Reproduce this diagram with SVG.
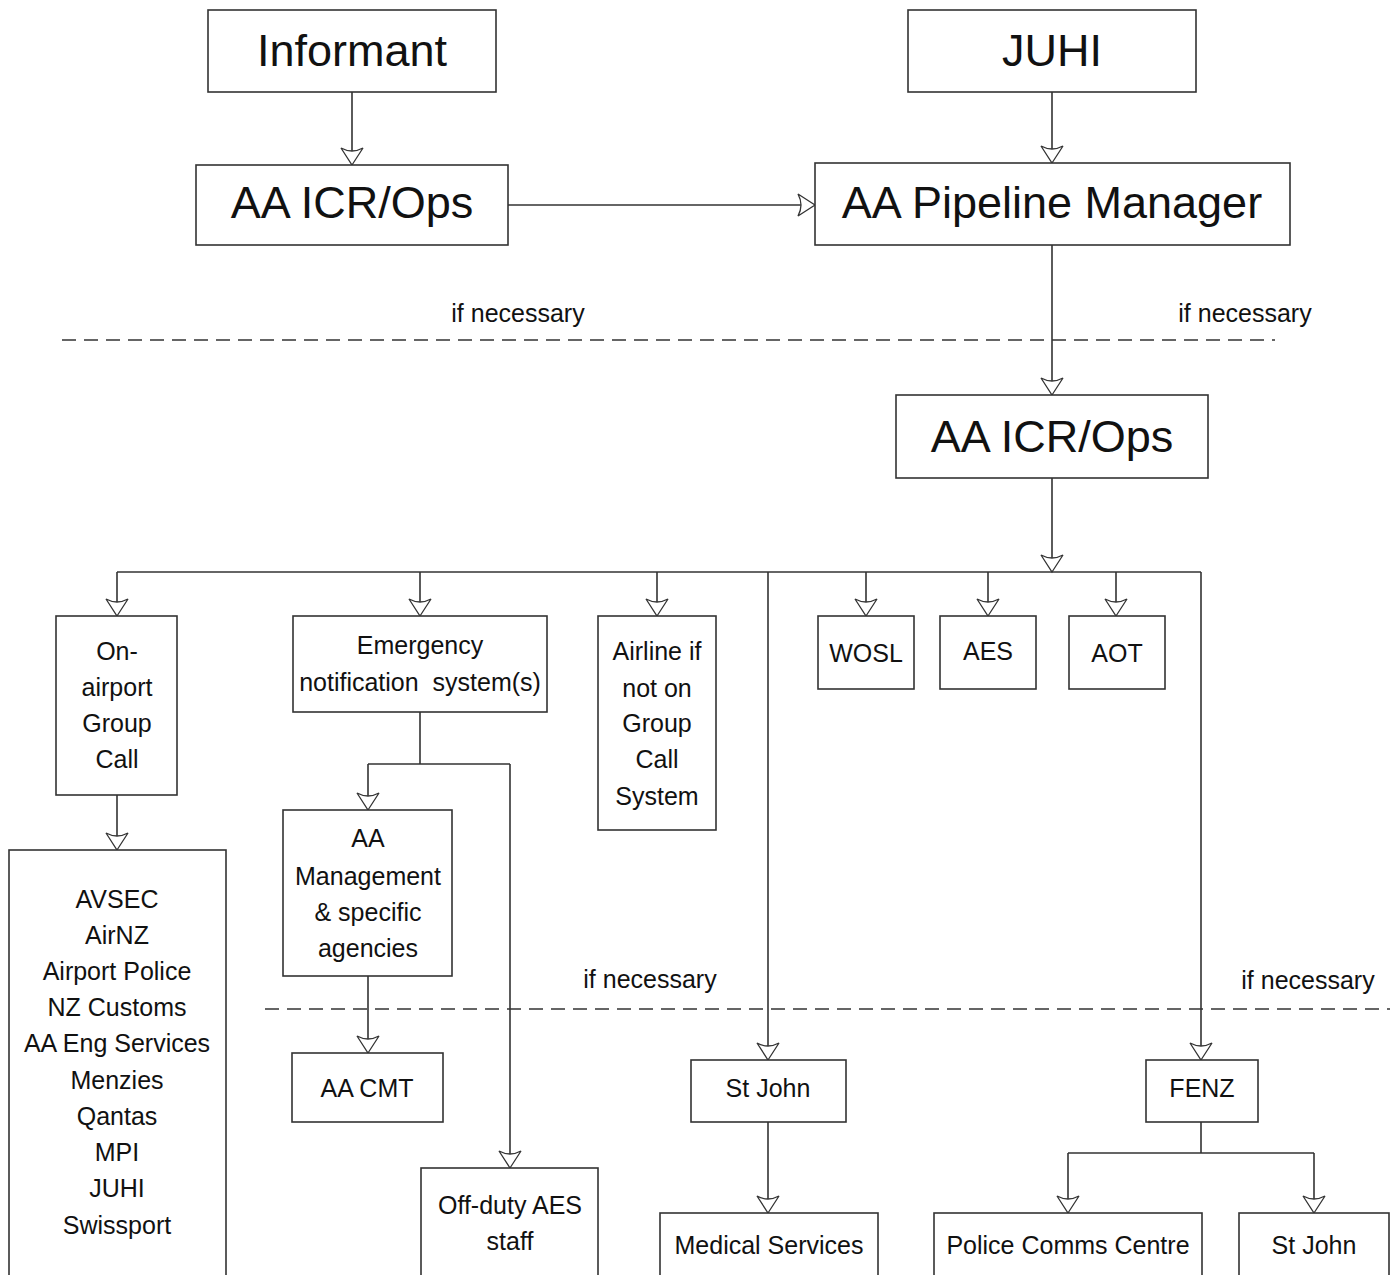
<svg xmlns="http://www.w3.org/2000/svg" width="1396" height="1275" viewBox="0 0 1396 1275">
<style>
.box{fill:#fff;stroke:#333;stroke-width:1.6}
.ln{fill:none;stroke:#333;stroke-width:1.6}
.dash{fill:none;stroke:#333;stroke-width:1.4;stroke-dasharray:14 8}
.big{font-family:"Liberation Sans",Arial,sans-serif;font-size:45px;fill:#111;text-anchor:middle}
.t{font-family:"Liberation Sans",Arial,sans-serif;font-size:25px;fill:#111;text-anchor:middle}
</style>
<defs>
<marker id="ah" markerUnits="userSpaceOnUse" markerWidth="24" markerHeight="26" viewBox="-20 -13 22 26" refX="0" refY="0" orient="auto">
<path d="M0,0 L-17,-11 Q-11,0 -17,11 Z" fill="#fff" stroke="#333" stroke-width="1.3" stroke-linejoin="miter"/>
</marker>
</defs>
<rect width="1396" height="1275" fill="#fff"/>
<g id="connectors">
<path class="ln" d="M352,92 V165" marker-end="url(#ah)"/>
<path class="ln" d="M1052,92 V163" marker-end="url(#ah)"/>
<path class="ln" d="M508,205 H815" marker-end="url(#ah)"/>
<path class="ln" d="M1052,245 V395" marker-end="url(#ah)"/>
<path class="ln" d="M1052,478 V572" marker-end="url(#ah)"/>
<path class="ln" d="M117,572 H1201"/>
<path class="ln" d="M117,572 V616" marker-end="url(#ah)"/>
<path class="ln" d="M420,572 V616" marker-end="url(#ah)"/>
<path class="ln" d="M657,572 V616" marker-end="url(#ah)"/>
<path class="ln" d="M768,572 V1060" marker-end="url(#ah)"/>
<path class="ln" d="M866,572 V616" marker-end="url(#ah)"/>
<path class="ln" d="M988,572 V616" marker-end="url(#ah)"/>
<path class="ln" d="M1116,572 V616" marker-end="url(#ah)"/>
<path class="ln" d="M1201,572 V1060" marker-end="url(#ah)"/>
<path class="ln" d="M117,795 V850" marker-end="url(#ah)"/>
<path class="ln" d="M420,712 V764 M368,764 H510"/>
<path class="ln" d="M368,764 V810" marker-end="url(#ah)"/>
<path class="ln" d="M510,764 V1168" marker-end="url(#ah)"/>
<path class="ln" d="M368,976 V1053" marker-end="url(#ah)"/>
<path class="ln" d="M768,1122 V1213" marker-end="url(#ah)"/>
<path class="ln" d="M1201,1122 V1153 M1068,1153 H1314"/>
<path class="ln" d="M1068,1153 V1213" marker-end="url(#ah)"/>
<path class="ln" d="M1314,1153 V1213" marker-end="url(#ah)"/>
</g>
<g id="dividers">
<path class="dash" d="M62,340 H1275"/>
<path class="dash" d="M265,1009 H1390"/>
<text class="t" x="518" y="322">if necessary</text>
<text class="t" x="1245" y="322">if necessary</text>
<text class="t" x="650" y="988">if necessary</text>
<text class="t" x="1308" y="989">if necessary</text>
</g>
<g id="informant"><rect class="box" x="208" y="10" width="288" height="82"/><text class="big" x="352" y="66">Informant</text></g>
<g id="juhi"><rect class="box" x="908" y="10" width="288" height="82"/><text class="big" x="1052" y="66">JUHI</text></g>
<g id="icr1"><rect class="box" x="196" y="165" width="312" height="80"/><text class="big" x="352" y="218">AA ICR/Ops</text></g>
<g id="pipeline"><rect class="box" x="815" y="163" width="475" height="82"/><text class="big" x="1052" y="218">AA Pipeline Manager</text></g>
<g id="icr2"><rect class="box" x="896" y="395" width="312" height="83"/><text class="big" x="1052" y="452">AA ICR/Ops</text></g>
<g id="onairport"><rect class="box" x="56" y="616" width="121" height="179"/>
<text class="t" x="117" y="660">On-</text><text class="t" x="117" y="696">airport</text><text class="t" x="117" y="732">Group</text><text class="t" x="117" y="768">Call</text></g>
<g id="emergency"><rect class="box" x="293" y="616" width="254" height="96"/>
<text class="t" x="420" y="654">Emergency</text><text class="t" x="420" y="691" xml:space="preserve">notification  system(s)</text></g>
<g id="airline"><rect class="box" x="598" y="616" width="118" height="214"/>
<text class="t" x="657" y="660">Airline if</text><text class="t" x="657" y="697">not on</text><text class="t" x="657" y="732">Group</text><text class="t" x="657" y="768">Call</text><text class="t" x="657" y="805">System</text></g>
<g id="wosl"><rect class="box" x="818" y="616" width="96" height="73"/><text class="t" x="866" y="662">WOSL</text></g>
<g id="aes"><rect class="box" x="940" y="616" width="96" height="73"/><text class="t" x="988" y="660">AES</text></g>
<g id="aot"><rect class="box" x="1069" y="616" width="96" height="73"/><text class="t" x="1117" y="662">AOT</text></g>
<g id="grouplist"><rect class="box" x="9" y="850" width="217" height="440"/>
<text class="t" x="117" y="908">AVSEC</text><text class="t" x="117" y="944">AirNZ</text><text class="t" x="117" y="980">Airport Police</text><text class="t" x="117" y="1016">NZ Customs</text><text class="t" x="117" y="1052">AA Eng Services</text><text class="t" x="117" y="1089">Menzies</text><text class="t" x="117" y="1125">Qantas</text><text class="t" x="117" y="1161">MPI</text><text class="t" x="117" y="1197">JUHI</text><text class="t" x="117" y="1234">Swissport</text></g>
<g id="aamgmt"><rect class="box" x="283" y="810" width="169" height="166"/>
<text class="t" x="368" y="847">AA</text><text class="t" x="368" y="885">Management</text><text class="t" x="368" y="921">&amp; specific</text><text class="t" x="368" y="957">agencies</text></g>
<g id="aacmt"><rect class="box" x="292" y="1053" width="151" height="69"/><text class="t" x="367" y="1097">AA CMT</text></g>
<g id="offduty"><rect class="box" x="421" y="1168" width="177" height="130"/>
<text class="t" x="510" y="1214">Off-duty AES</text><text class="t" x="510" y="1250">staff</text></g>
<g id="stjohn1"><rect class="box" x="691" y="1060" width="155" height="62"/><text class="t" x="768" y="1097">St John</text></g>
<g id="medical"><rect class="box" x="660" y="1213" width="218" height="90"/><text class="t" x="769" y="1254">Medical Services</text></g>
<g id="fenz"><rect class="box" x="1146" y="1060" width="112" height="62"/><text class="t" x="1202" y="1097">FENZ</text></g>
<g id="police"><rect class="box" x="934" y="1213" width="268" height="90"/><text class="t" x="1068" y="1254">Police Comms Centre</text></g>
<g id="stjohn2"><rect class="box" x="1239" y="1213" width="150" height="90"/><text class="t" x="1314" y="1254">St John</text></g>
</svg>
